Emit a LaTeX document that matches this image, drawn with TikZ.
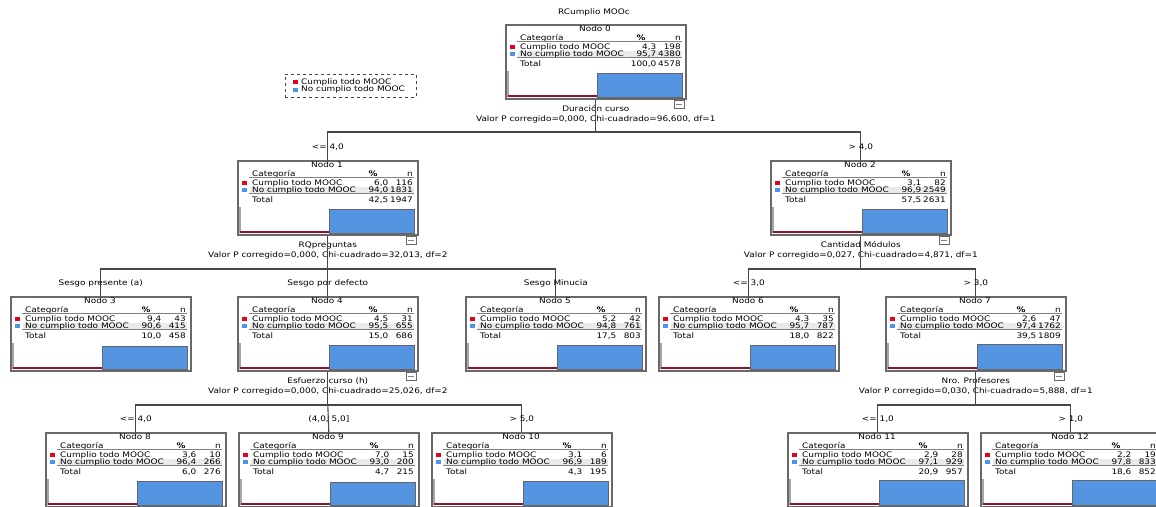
\documentclass[tikz,border=0pt]{standalone}
\usepackage{fontspec}
\setmainfont{DejaVu Sans}[FakeStretch=1.17]
\usepackage{tikz}
\usetikzlibrary{positioning}
\definecolor{boxframe}{RGB}{105,105,105}
\definecolor{barblue}{RGB}{85,148,225}
\definecolor{barred}{RGB}{140,20,40}
\definecolor{keyred}{RGB}{230,0,30}
\definecolor{keyblue}{RGB}{75,150,235}
\definecolor{rowgray}{RGB}{234,234,234}
\definecolor{linegray}{RGB}{70,70,70}
\newcommand{\pcnt}[1]{\pgfmathprintnumber[fixed,fixed zerofill,precision=1,use comma,assume math mode=true]{#1}}

\begin{document}
\begin{tikzpicture}[x=1pt, y=-1pt,
  every node/.style={font=\fontsize{7.6}{10}\selectfont, inner sep=0pt},
  treebox/.style={rectangle, draw=boxframe, line width=1.6pt, fill=white,
                  minimum width=180pt, minimum height=74pt, anchor=north west},
  cell/.style={text height=5.5pt, text depth=1.5pt},
  keysq/.style={rectangle, minimum width=5pt, minimum height=4pt},
  foldbox/.style={rectangle, draw=boxframe, fill=white, line width=0.6pt,
                  minimum width=10pt, minimum height=8pt, anchor=north east},
  split/.style={align=center},
  cond/.style={text height=5.5pt, text depth=1.5pt},
  conn/.style={draw=linegray, line width=1.1pt},
  rule/.style={draw=gray, line width=0.7pt}
]
\useasboundingbox (0,0) rectangle (1156,506);

\node (title) at (594,12) {RCumplio MOOc};

\node[draw=linegray, dashed, line width=0.8pt, minimum width=131pt, minimum height=23pt,
      anchor=north west] (legend) at (285,74) {};
\node[keysq, fill=keyred] (lk1) at (295,82) {};
\node[cell, anchor=west] (lt1) at (301,82) {Cumplio todo MOOC};
\node[keysq, fill=keyblue] (lk2) at (295,89.5) {};
\node[cell, anchor=west] (lt2) at (301,89.5) {No cumplio todo MOOC};

% nodos del arbol
\foreach \i/\x/\y/\pa/\na/\pb/\nb/\pt/\nt in {
  0/505/24/4.3/198/95.7/4380/100.0/4578,
  1/237/160/6.0/116/94.0/1831/42.5/1947,
  2/770/160/3.1/82/96.9/2549/57.5/2631,
  3/10/296/9.4/43/90.6/415/10.0/458,
  4/237/296/4.5/31/95.5/655/15.0/686,
  5/465/296/5.2/42/94.8/761/17.5/803,
  6/658/296/4.3/35/95.7/787/18.0/822,
  7/885/296/2.6/47/97.4/1762/39.5/1809,
  8/45/432/3.6/10/96.4/266/6.0/276,
  9/238/432/7.0/15/93.0/200/4.7/215,
  10/431/432/3.1/6/96.9/189/4.3/195,
  11/787/432/2.9/28/97.1/929/20.9/957,
  12/980/432/2.2/19/97.8/833/18.6/852}{
  \node[treebox] (n\i) at (\x,\y) {};
  \begin{scope}[shift={(\x,\y)}]
    \node[cell] (n\i-nodo) at (90,5.5) {Nodo \i};
    \node[cell, anchor=west] (n\i-cat) at (15,14) {Categoría};
    \node[cell] (n\i-pc) at (136,14) {\textbf{\%}};
    \node[cell, anchor=east] (n\i-n) at (176,14) {n};
    \draw[rule] (12,17.5) -- (177,17.5);
    \fill[rowgray] (13,27) rectangle (177,33);
    \node[keysq, fill=keyred] (n\i-k1) at (7,23.3) {};
    \node[cell, anchor=west] (n\i-r1) at (15,23.3) {Cumplio todo MOOC};
    \node[cell, anchor=east] (n\i-p1) at (151.5,23.3) {\pcnt{\pa}};
    \node[cell, anchor=east] (n\i-c1) at (176,23.3) {\na};
    \node[keysq, fill=keyblue] (n\i-k2) at (7,30) {};
    \node[cell, anchor=west] (n\i-r2) at (15,30) {No cumplio todo MOOC};
    \node[cell, anchor=east] (n\i-p2) at (151.5,30) {\pcnt{\pb}};
    \node[cell, anchor=east] (n\i-c2) at (176,30) {\nb};
    \draw[rule] (12,33.5) -- (177,33.5);
    \node[cell, anchor=west] (n\i-tot) at (15,40) {Total};
    \node[cell, anchor=east] (n\i-p3) at (151.5,40) {\pcnt{\pt}};
    \node[cell, anchor=east] (n\i-c3) at (176,40) {\nt};
    \draw[gray!70, line width=1.2pt] (3,47) -- (3,73);
    \fill[barred] (3,73) rectangle (92,{73-max(2,0.25*\pa)});
    \filldraw[fill=barblue, draw=black!60, line width=0.5pt] (92,73) rectangle (177,{73-0.25*\pb});
  \end{scope}
}

\foreach \i in {0,1,2,4,7}
  \node[foldbox] (f\i) at ([xshift=-2pt]n\i.south east) {\color{gray}\rule{6pt}{0.6pt}};

\node[split, below=6pt of n0] (s0) {Duración curso\\Valor P corregido=0,000, Chi-cuadrado=96,600, df=1};
\node[split, below=6pt of n1] (s1) {RQpreguntas\\Valor P corregido=0,000, Chi-cuadrado=32,013, df=2};
\node[split, below=6pt of n2] (s2) {Cantidad Módulos\\Valor P corregido=0,027, Chi-cuadrado=4,871, df=1};
\node[split, below=6pt of n4] (s4) {Esfuerzo curso (h)\\Valor P corregido=0,000, Chi-cuadrado=25,026, df=2};
\node[split, below=6pt of n7] (s7) {Nro. Profesores\\Valor P corregido=0,030, Chi-cuadrado=5,888, df=1};

\coordinate (h0) at (n0.south |- 0,132);
\coordinate (h1) at (n1.south |- 0,269);
\coordinate (h2) at (n2.south |- 0,269);
\coordinate (h4) at (n4.south |- 0,405);
\coordinate (h7) at (n7.south |- 0,405);

\draw[conn] (n0.south) -- (h0);
\draw[conn] (n1.north) |- (h0) -| (n2.north);
\draw[conn] (n1.south) -- (h1);
\draw[conn] (n3.north) |- (h1) -| (n5.north);
\draw[conn] (h1) -- (n4.north);
\draw[conn] (n2.south) -- (h2);
\draw[conn] (n6.north) |- (h2) -| (n7.north);
\draw[conn] (n4.south) -- (h4);
\draw[conn] (n8.north) |- (h4) -| (n10.north);
\draw[conn] (h4) -- (n9.north);
\draw[conn] (n7.south) -- (h7);
\draw[conn] (n11.north) |- (h7) -| (n12.north);

\foreach \i/\t in {1/{<= 4,0}, 2/{> 4,0}, 3/{Sesgo presente (a)}, 4/{Sesgo por defecto},
                   5/{Sesgo Minucia}, 6/{<= 3,0}, 7/{> 3,0}, 8/{<= 4,0}, 9/{(4,0, 5,0]},
                   10/{> 5,0}, 11/{<= 1,0}, 12/{> 1,0}}
  \node[cond, above=9pt of n\i] (c\i) {\t};

\end{tikzpicture}
\end{document}
